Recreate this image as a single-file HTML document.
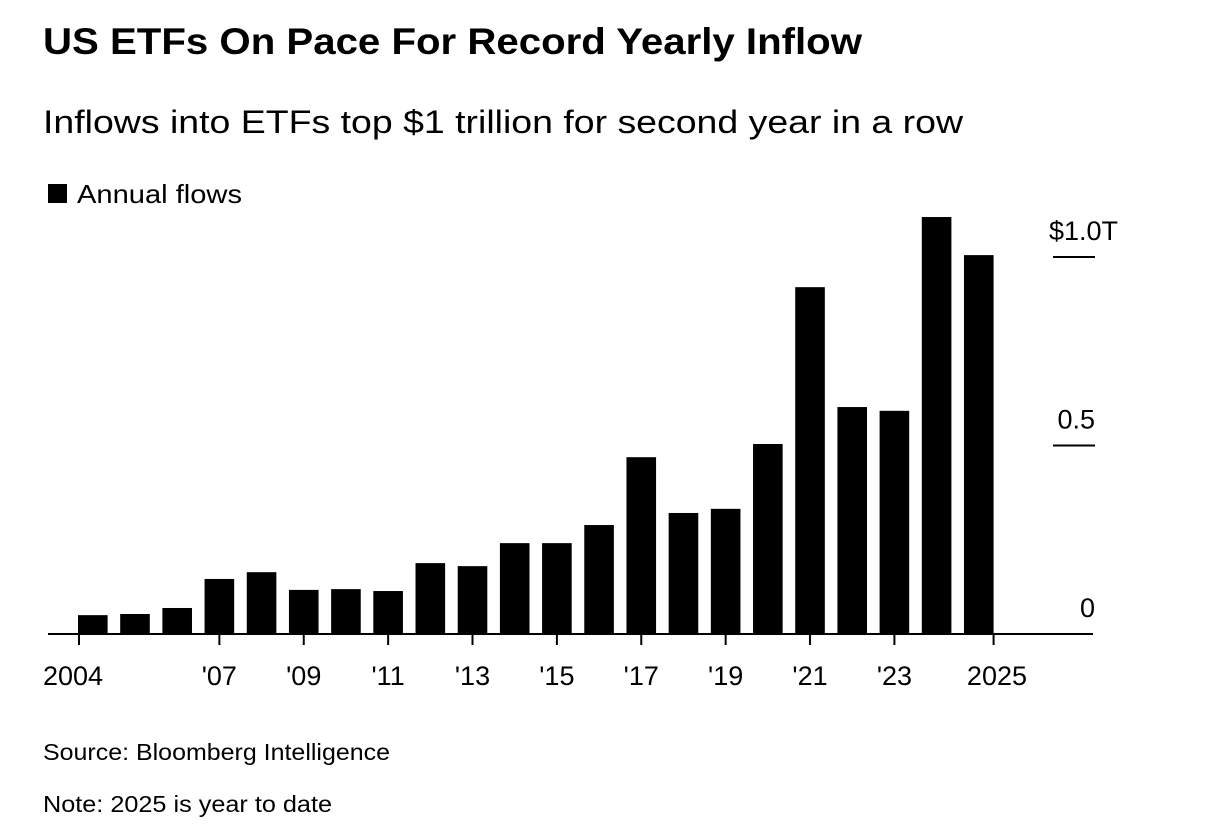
<!DOCTYPE html>
<html><head><meta charset="utf-8"><style>
body{margin:0;background:#fff;font-family:"Liberation Sans",sans-serif;color:#000}
svg text{font-family:"Liberation Sans",sans-serif}
</style></head><body>
<svg width="1210" height="832">
<text x="43" y="54" font-size="37" font-weight="bold" textLength="819" lengthAdjust="spacingAndGlyphs">US ETFs On Pace For Record Yearly Inflow</text>
<text x="43" y="133" font-size="32" textLength="920" lengthAdjust="spacingAndGlyphs">Inflows into ETFs top $1 trillion for second year in a row</text>
<rect x="48" y="184" width="19" height="19" fill="#000"/>
<text x="77" y="203" font-size="26" textLength="165" lengthAdjust="spacingAndGlyphs">Annual flows</text>
<g id="bars"></g>
<g id="axes"></g>
<text x="43" y="760" font-size="23" textLength="347" lengthAdjust="spacingAndGlyphs">Source: Bloomberg Intelligence</text>
<text x="43" y="812" font-size="23" textLength="289" lengthAdjust="spacingAndGlyphs">Note: 2025 is year to date</text>
</svg>
<script>
const years=[2004,2005,2006,2007,2008,2009,2010,2011,2012,2013,2014,2015,2016,2017,2018,2019,2020,2021,2022,2023,2024,2025];
const flows=[0.050,0.053,0.069,0.146,0.164,0.117,0.119,0.114,0.188,0.180,0.241,0.241,0.289,0.469,0.321,0.332,0.504,0.920,0.602,0.592,1.106,1.005];
const yTicks=[0,0.5,1.0];
const yTickLabels=["0","0.5","$1.0T"];
const xTickYears=[2004,2007,2009,2011,2013,2015,2017,2019,2021,2023,2025];
const xTickLabels=["2004","'07","'09","'11","'13","'15","'17","'19","'21","'23","2025"];
const NS="http://www.w3.org/2000/svg";
const y0=634,pxPerUnit=377,x0=78,step=42.19,bw=29.6;
const yS=v=>y0-v*pxPerUnit;
const xS=yr=>x0+(yr-years[0])*step;
function mk(tag,attrs,parent){const e=document.createElementNS(NS,tag);for(const k in attrs)e.setAttribute(k,attrs[k]);parent.appendChild(e);return e;}
const bars=document.getElementById('bars'),axes=document.getElementById('axes');
years.forEach((yr,i)=>{
 const r=mk('rect',{x:xS(yr),y:yS(flows[i]),width:bw,height:y0-yS(flows[i]),fill:'#000'},bars);
 
 
});
const ax=mk('line',{x1:48,x2:1093,y1:y0,y2:y0,stroke:'#000','stroke-width':2},axes);


xTickYears.forEach((yr,i)=>{
 let tx=xS(yr)+bw/2;
 if(i===0)tx=xS(yr)+1;
 if(i===xTickYears.length-1)tx=xS(yr)+bw;
 const t=mk('line',{x1:tx,x2:tx,y1:y0,y2:y0+11,stroke:'#000','stroke-width':2},axes);
 
 
 const anchor=i===0?'start':(i===xTickYears.length-1?'end':'middle');
 const lx=i===0?43:(i===xTickYears.length-1?1027:tx);
 const l=mk('text',{x:lx,y:685,'font-size':27,'text-anchor':anchor},axes);
 l.textContent=xTickLabels[i];
 
 
});
yTicks.forEach((v,i)=>{
 if(v>0){
  const g=mk('line',{x1:1053,x2:1095,y1:yS(v),y2:yS(v),stroke:'#000','stroke-width':2},axes);
  
  
 }
 const rx=i===yTicks.length-1?1118:1095;
 const l=mk('text',{x:rx,y:yS(v)-17,'font-size':27,'text-anchor':'end'},axes);
 l.textContent=yTickLabels[i];
 
 
});
</script>
</body></html>
